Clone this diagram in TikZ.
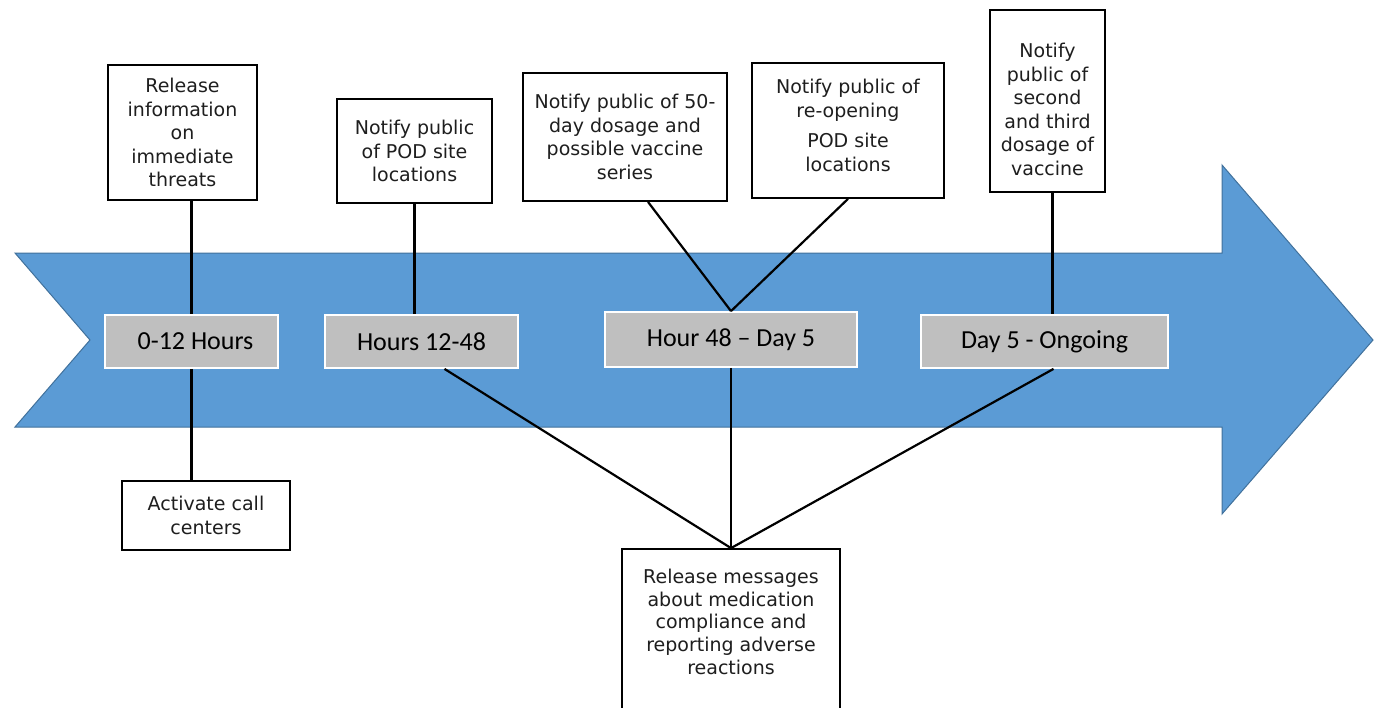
\documentclass[tikz,border=0pt]{standalone}
\usepackage{fontspec}
\setmainfont{DejaVu Sans}
\newfontfamily\calfont{Carlito}
\usepackage{tikz}
\definecolor{arrowfill}{HTML}{5B9BD5}
\definecolor{arrowedge}{HTML}{41719C}
\definecolor{phasebg}{HTML}{BFBFBF}
\definecolor{ink}{HTML}{1E1E1E}
\tikzset{
  note/.style={draw=black, fill=white, line width=1.8pt, align=center,
    inner xsep=4pt, text=ink,
    font=\fontsize{19}{23.5}\selectfont},
  phase/.style={draw=white, fill=phasebg, line width=1.8pt, text=black,
    minimum height=53, font=\calfont\fontsize{26}{30}\selectfont},
  link/.style={draw=black, line width=2.2pt}
}

\begin{document}
\begin{tikzpicture}[x=1pt, y=-1pt]
  \useasboundingbox (0,0) rectangle (1375,707);
  \clip (0,0) rectangle (1375,707);

  % big arrow
  \filldraw[fill=arrowfill, draw=arrowedge, line width=1pt]
    (15,253) -- (1222,253) -- (1222,165) -- (1373,340) -- (1222,514)
    -- (1222,427) -- (15,427) -- (90,340) -- cycle;

  % phases
  \node[phase, minimum width=173] (t1) at (191.5,341.5) {\hspace{8pt}0-12 Hours};
  \node[phase, minimum width=193] (t2) at (421.5,341.5) {Hours 12-48};
  \node[phase, minimum width=252, minimum height=55] (t3) at (731,339.5) {Hour 48 – Day 5};
  \node[phase, minimum width=247] (t4) at (1044.5,341.5) {Day 5 - Ongoing};

  % messages
  \node[note, minimum width=149, minimum height=135] (rel) at (182.5,132.5)
    {Release\\information\\on\\immediate\\threats};
  \node[note, minimum width=155, minimum height=104] (pod) at (414.5,151)
    {Notify public\\of POD site\\locations};
  \node[note, minimum width=204, minimum height=128] (dose) at (625,137)
    {Notify public of 50-\\day dosage and\\possible vaccine\\series};
  \node[note, minimum width=192, minimum height=135] (reopen) at (848,130.5)
    {Notify public of\\re-opening\\[7pt]POD site\\locations\\[-13.5pt]\mbox{}};
  \node[note, minimum width=115, minimum height=182] (third) at (1047.5,101)
    {\mbox{}\\[8pt]Notify\\public of\\second\\and third\\dosage of\\vaccine};
  \node[note, minimum width=168, minimum height=69] (call) at (206,515.5)
    {Activate call\\centers};
  \node[note, minimum width=218, minimum height=168, font=\fontsize{19}{22.8}\selectfont]
    (msg) at (731,633)
    {Release messages\\about medication\\compliance and\\reporting adverse\\reactions\\ \mbox{}};

  % connectors
  \draw[link] (rel.south -| t1.north) -- (t1.north);
  \draw[link] (t1.south) -- (t1.south |- call.north);
  \draw[link] (pod.south) -- (pod.south |- t2.north);
  \draw[link] ([xshift=23]dose.south) -- (t3.north);
  \draw[link] (reopen.south) -- (t3.north);
  \draw[link] ([xshift=5]third.south) -- ([xshift=5]third.south |- t4.north);
  \draw[link] ([xshift=23]t2.south) -- (msg.north);
  \draw[link] (t3.south) -- (msg.north);
  \draw[link] ([xshift=9]t4.south) -- (msg.north);
\end{tikzpicture}
\end{document}
